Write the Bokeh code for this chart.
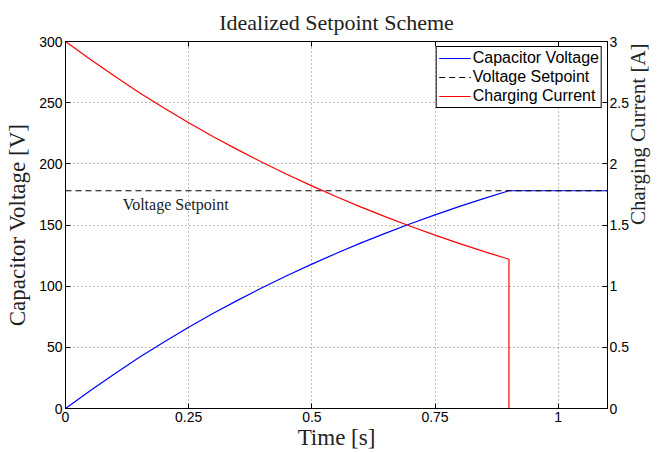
import math
from bokeh.plotting import figure
from bokeh.models import Range1d, LinearAxis, FixedTicker, CustomJSTickFormatter, Label
from bokeh.embed import file_html
from bokeh.resources import INLINE

# ---- data ----
time_s = [0.0, 0.05, 0.1, 0.15, 0.2, 0.25, 0.3, 0.35, 0.4, 0.45, 0.5, 0.55,
          0.6, 0.65, 0.7, 0.75, 0.8, 0.85, 0.9, 1.1]
cap_voltage = [0.0, 14.6, 28.5, 41.8, 54.4, 66.4, 77.8, 88.6, 98.9, 108.7, 118.0,
               126.9, 135.4, 143.4, 151.0, 158.3, 165.2, 171.8, 178.0, 178.0]
current_time = [0.0, 0.05, 0.1, 0.15, 0.2, 0.25, 0.3, 0.35, 0.4, 0.45, 0.5, 0.55,
                0.6, 0.65, 0.7, 0.75, 0.8, 0.85, 0.9, 0.9, 1.1]
charging_current = [3.0, 2.854, 2.715, 2.582, 2.456, 2.336, 2.222, 2.114, 2.011,
                    1.913, 1.820, 1.731, 1.646, 1.566, 1.490, 1.417, 1.348, 1.282,
                    1.220, 0.0, 0.0]
setpoint_time = [0.0, 1.1]
setpoint_voltage = [178.0, 178.0]
x_ticks = [0, 0.25, 0.5, 0.75, 1]
v_ticks = [0, 50, 100, 150, 200, 250, 300]
i_ticks = [0, 0.5, 1, 1.5, 2, 2.5, 3]

SERIF = "Liberation Serif"
SANS = "Liberation Sans"

p = figure(width=664, height=452, output_backend="svg", toolbar_location=None,
           x_range=Range1d(0, 1.1), y_range=Range1d(0, 300),
           min_border_left=65, min_border_right=49, min_border_top=41,
           min_border_bottom=43, title="Idealized Setpoint Scheme",
           x_axis_location=None, y_axis_location=None)
p.extra_y_ranges = {"current": Range1d(0, 3)}

p.title.text_font = SERIF
p.title.text_font_size = "22px"
p.title.text_font_style = "normal"
p.title.text_color = "#222222"
p.title.align = "center"
p.title.offset = 0
p.title.standoff = 13

p.outline_line_color = "black"
p.outline_line_width = 1
p.outline_line_alpha = 1

fmt = CustomJSTickFormatter(code="return String(tick)")

bottom = LinearAxis(ticker=FixedTicker(ticks=x_ticks), formatter=fmt, axis_label="Time [s]")
left = LinearAxis(ticker=FixedTicker(ticks=v_ticks), formatter=fmt,
                  axis_label="Capacitor Voltage [V]")
right = LinearAxis(y_range_name="current", ticker=FixedTicker(ticks=i_ticks), formatter=fmt,
                   axis_label="Charging Current [A]")
top = LinearAxis(ticker=FixedTicker(ticks=x_ticks), formatter=fmt)
p.add_layout(bottom, "below")
p.add_layout(left, "left")
p.add_layout(right, "right")
p.add_layout(top, "above")

for ax in [bottom, left, right, top]:
    ax.major_tick_in = 5
    ax.major_tick_out = 0
    ax.minor_tick_in = 0
    ax.minor_tick_out = 0
    ax.major_tick_line_color = "black"
    ax.axis_line_color = "black"
    ax.major_label_text_font = SANS
    ax.major_label_text_font_size = "14px"
    ax.major_label_text_color = "black"
    ax.major_label_standoff = 3
    ax.axis_label_text_font = SERIF
    ax.axis_label_text_font_size = "23px"
    ax.axis_label_text_font_style = "normal"
    ax.axis_label_text_color = "#222222"
    ax.axis_label_standoff = 3
top.major_label_text_font_size = "0px"
top.major_label_standoff = 0
bottom.axis_label_standoff = 0
left.axis_label_standoff = 6
right.major_label_standoff = 2
right.axis_label_text_font_size = "21px"
right.axis_label_standoff = 6
right.axis_label_orientation = math.pi / 2

for g, t in [(p.xgrid[0], x_ticks), (p.ygrid[0], v_ticks)]:
    g.ticker = FixedTicker(ticks=t)
    g.grid_line_color = "#555555"
    g.grid_line_dash = "1 3"
    g.grid_line_width = 1
    g.grid_line_alpha = 0.8

p.line(time_s, cap_voltage, line_color="#0000ff", line_width=1.2,
       legend_label="Capacitor Voltage")
p.line(setpoint_time, setpoint_voltage, line_color="black", line_width=1.2,
       line_dash="6 4", legend_label="Voltage Setpoint")
p.line(current_time, charging_current, line_color="#ff0000", line_width=1.2,
       y_range_name="current", legend_label="Charging Current")

p.add_layout(Label(x=0.116, y=167, text="Voltage Setpoint", text_font=SERIF,
                   text_font_size="16px", text_color="#222222",
                   text_baseline="middle", text_align="left"))

legend = p.legend[0]
legend.location = "top_right"
legend.label_text_font = SANS
legend.label_text_font_size = "16px"
legend.label_text_color = "black"
legend.border_line_color = "black"
legend.border_line_width = 1
legend.border_line_alpha = 1
legend.background_fill_alpha = 1
legend.margin = 5
legend.padding = 2
legend.spacing = 1
legend.label_height = 18
legend.glyph_height = 18
legend.glyph_width = 32
legend.label_standoff = 2

open("out.html", "w").write(file_html(p, INLINE))
